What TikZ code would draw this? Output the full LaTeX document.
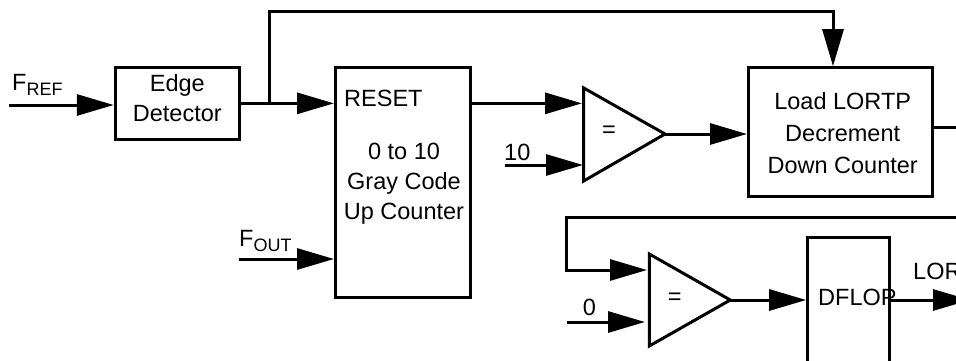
\documentclass[tikz,border=0pt]{standalone}
\usepackage{fontspec}
\setmainfont{Liberation Sans}
\usepackage{tikz}
\usetikzlibrary{arrows.meta}
\newcommand{\sigfreq}[1]{F\raisebox{-5pt}{\fontsize{18}{18}\selectfont #1}}
\tikzset{
  wire/.style={draw=black,line width=3pt},
  flow/.style={wire,-{Triangle[length=37pt,width=21pt]}},
  blockbox/.style={draw=black,line width=3pt,fill=white,inner sep=0pt},
  lbl/.style={inner sep=0pt,font=\fontsize{23.5}{30}\selectfont},
  lblblock/.style={lbl,align=center},
  lblbase/.style={lbl,anchor=base west}
}
\begin{document}
\begin{tikzpicture}[x=1pt,y=1pt]
\useasboundingbox (0,0) rectangle (956,360);
\clip (0,0) rectangle (956,360);
% blocks:
\node[blockbox,minimum width=124.7pt,minimum height=71.3pt] (edge) at (177.6,256.65) {};
\node[blockbox,minimum width=135.2pt,minimum height=229.3pt] (counter) at (403.1,177.65) {};
\node[blockbox,minimum width=183.5pt,minimum height=129.1pt] (load) at (840.25,227.75) {};
\node[blockbox,minimum width=82pt,minimum height=162.3pt] (dflop) at (848.7,41.15) {};
% comparators:
\coordinate (cmponetop) at (583.7,272);
\coordinate (cmponebot) at (583.7,179);
\coordinate (cmponetip) at (665,226);
\coordinate (cmptwotop) at (649.3,106);
\coordinate (cmptwobot) at (649.3,14);
\coordinate (cmptwotip) at (730.3,60);
\path[wire] (cmponetop) -- (cmponetip) -- (cmponebot) -- cycle;
\path[wire] (cmptwotop) -- (cmptwotip) -- (cmptwobot) -- cycle;
% free ends of the wires:
\coordinate (fref) at (9,255);
\coordinate (tap) at (269,256.65);
\coordinate (loadin) at (833,349);
\coordinate (cmponea) at (582,256.65);
\coordinate (ten) at (505,195);
\coordinate (cmponeb) at (583,195);
\coordinate (fout) at (239,101);
\coordinate (loadout) at (956,233);
\coordinate (loopstart) at (956,143);
\coordinate (loopleft) at (566.7,90);
\coordinate (cmptwoa) at (647,90);
\coordinate (zero) at (567,38);
\coordinate (cmptwob) at (645,38);
\coordinate (lorout) at (970,60);
% wires:
\draw[flow] (fref) -- (fref -| edge.west);
\draw[flow] (edge.east) -- (edge.east -| counter.west);
\draw[flow] (tap) |- (loadin) -- (loadin |- load.north);
\draw[flow] (cmponea -| counter.east) -- (cmponea);
\draw[flow] (ten) -- (cmponeb);
\draw[flow] (fout) -- (fout -| counter.west);
\draw[flow] (cmponetip) -- (cmponetip -| load.west);
\draw[wire] (loadout -| load.east) -- (loadout);
\draw[flow] (loopstart) -| (loopleft) -- (cmptwoa);
\draw[flow] (zero) -- (cmptwob);
\draw[flow] (cmptwotip) -- (cmptwotip -| dflop.west);
\draw[flow] (cmptwotip -| dflop.east) -- (lorout);
% texts:
\node[lblbase] (freflabel) at (12,270) {\sigfreq{REF}};
\node[lblbase] (foutlabel) at (239,113.3) {\sigfreq{OUT}};
\node[lblblock] (edgelabel) at (177.3,262) {Edge\\Detector};
\node[lblbase] (resetlabel) at (344,253.3) {RESET};
\node[lblblock] (rangelabel) at (404,176) {0 to 10\\Gray Code\\Up Counter};
\node[lblbase] (tenlabel) at (504,200) {10};
\node[lbl] (cmponelabel) at (609,228) {=};
\node[lblblock] (loadlabel) at (842.7,227) {Load LORTP\\[2pt]Decrement\\[2pt]Down Counter};
\node[lblbase] (zerolabel) at (582.7,45) {0};
\node[lbl] (cmptwolabel) at (674.7,61) {=};
\node[lblbase] (dfloplabel) at (818,55) {DFLOP};
\node[lblbase] (lorlabel) at (913,81) {LOR};
\end{tikzpicture}
\end{document}
